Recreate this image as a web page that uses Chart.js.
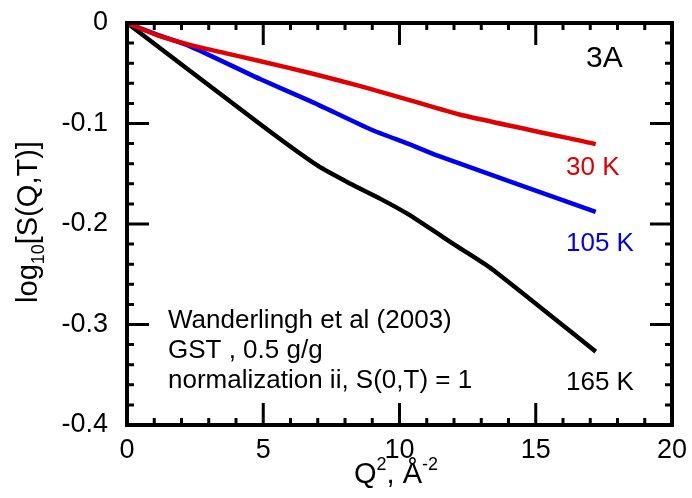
<!DOCTYPE html>
<html>
<head>
<meta charset="utf-8">
<script src="https://cdn.jsdelivr.net/npm/chart.js@4.4.1/dist/chart.umd.min.js"></script>
<style>
	html, body { margin: 0; padding: 0; background: #fff; }
	#wrap { width: 692px; height: 498px; }
</style>
</head>
<body>
<div id="wrap"><canvas id="sqtChart" width="692" height="498"></canvas></div>
<script>
// values: Q^2 (A^-2) and log10 S(Q,T)
var q2_30K = [0, 1.1, 2.35, 3.6, 4.9, 6.75, 8.6, 10.4, 12.2, 17.2];
var logS_30K = [0, -0.012, -0.022, -0.030, -0.038, -0.050, -0.063, -0.077, -0.091, -0.1205];
var q2_105K = [0, 1.1, 2.3, 4.9, 6.75, 8.95, 10.4, 11.4, 17.2];
var logS_105K = [0, -0.0115, -0.023, -0.056, -0.078, -0.106, -0.121, -0.132, -0.188];
var q2_165K = [0, 5.0, 7.0, 8.2, 9.3, 10.3, 12.1, 13.4, 17.2];
var logS_165K = [0, -0.103, -0.142, -0.160, -0.175, -0.19, -0.222, -0.245, -0.327];

var xTicks = [0, 5, 10, 15, 20];
var yTicks = [0, -0.1, -0.2, -0.3, -0.4];
var seriesLabels = ['30 K', '105 K', '165 K'];
var noteLines = ['Wanderlingh et al (2003)', 'GST , 0.5 g/g', 'normalization ii, S(0,T) = 1'];

var RED = '#e00000';
var BLUE = '#0000f0';
var FONT = '"Liberation Sans", Arial, Helvetica, sans-serif';

var _points = function(xs, ys) {
	var pts = [];
	for (var i = 0; i < xs.length; i++) {
		pts.push({x: xs[i], y: ys[i]});
	}
	return pts;
};

// draws a string made of pieces [text, font, dy] centred on cx
var _drawPieces = function(ctx, parts, cx, baseY) {
	var total = 0;
	for (var i = 0; i < parts.length; i++) {
		ctx.font = parts[i][1];
		total += ctx.measureText(parts[i][0]).width;
	}
	var tx = cx - total / 2;
	for (var j = 0; j < parts.length; j++) {
		ctx.font = parts[j][1];
		ctx.fillText(parts[j][0], tx, baseY + parts[j][2]);
		tx += ctx.measureText(parts[j][0]).width;
	}
};

// frame, inward ticks on all four sides, titles and text labels
var framePlugin = {
	id: 'frame',
	afterDraw: function(chart) {
		var ctx = chart.ctx;
		var a = chart.chartArea;
		var xs = chart.scales.x;
		var ys = chart.scales.y;
		ctx.save();
		ctx.strokeStyle = '#000';
		ctx.lineWidth = 4;
		ctx.strokeRect(a.left, a.top, a.right - a.left, a.bottom - a.top);

		ctx.lineWidth = 3;
		ctx.beginPath();
		for (var v = 0; v <= 20; v++) {
			var px = xs.getPixelForValue(v);
			var len = (v % 5 === 0) ? 22 : 7;
			ctx.moveTo(px, a.bottom); ctx.lineTo(px, a.bottom - len);
			ctx.moveTo(px, a.top); ctx.lineTo(px, a.top + len);
		}
		for (var k = 0; k <= 20; k++) {
			var py = ys.getPixelForValue(-k * 0.02);
			var ylen = (k % 5 === 0) ? 22 : 7;
			ctx.moveTo(a.left, py); ctx.lineTo(a.left + ylen, py);
			ctx.moveTo(a.right, py); ctx.lineTo(a.right - ylen, py);
		}
		ctx.stroke();

		ctx.fillStyle = '#000';
		ctx.textBaseline = 'alphabetic';
		ctx.textAlign = 'left';
		var big = '29px ' + FONT;
		var small = '18px ' + FONT;

		// x title: Q^2, A^-2
		_drawPieces(ctx, [['Q', big, 0], ['2', small, -13], [', \u00c5', big, 0], ['-2', small, -13]], 396, 483);

		// y title: log10[S(Q,T)], rotated
		ctx.save();
		ctx.translate(37, 222);
		ctx.rotate(-Math.PI / 2);
		_drawPieces(ctx, [['log', big, 0], ['10', small, 7], ['[S(Q,T)]', big, 0]], 0, 0);
		ctx.restore();

		// panel tag and series labels
		ctx.font = '30px ' + FONT;
		ctx.fillText('3A', 586, 67);
		ctx.font = '26px ' + FONT;
		ctx.fillStyle = RED;
		ctx.fillText(seriesLabels[0], 566, 175);
		ctx.fillStyle = BLUE;
		ctx.fillText(seriesLabels[1], 566, 251);
		ctx.fillStyle = '#000';
		ctx.fillText(seriesLabels[2], 566, 390);

		// note block
		ctx.font = '26px ' + FONT;
		for (var r = 0; r < noteLines.length; r++) {
			ctx.fillText(noteLines[r], 168, 328 + r * 30);
		}
		ctx.restore();
	}
};

window.addEventListener('load', function() {
	var ctx = document.getElementById('sqtChart');
	new Chart(ctx, {
		type: 'scatter',
		data: {
			datasets: [
				{ label: seriesLabels[0], data: _points(q2_30K, logS_30K), borderColor: RED },
				{ label: seriesLabels[1], data: _points(q2_105K, logS_105K), borderColor: BLUE },
				{ label: seriesLabels[2], data: _points(q2_165K, logS_165K), borderColor: '#000' }
			]
		},
		options: {
			responsive: false,
			animation: false,
			devicePixelRatio: 1,
			layout: { padding: { left: 0, top: 23, right: 20, bottom: 0 } },
			elements: {
				line: { borderWidth: 4.5, tension: 0.2, fill: false, borderCapStyle: 'butt' },
				point: { radius: 0, hoverRadius: 0 }
			},
			datasets: { scatter: { showLine: true } },
			plugins: { legend: { display: false }, tooltip: { enabled: false } },
			scales: {
				x: {
					type: 'linear', min: 0, max: 20,
					afterBuildTicks: function(s) { s.ticks = xTicks.map(function(v) { return {value: v}; }); },
					afterFit: function(s) { s.height = 73; s.paddingLeft = 0; s.paddingRight = 0; },
					ticks: { color: '#000', font: { family: FONT, size: 27 }, padding: 9, maxRotation: 0 },
					grid: { display: false, drawTicks: false },
					border: { display: false }
				},
				y: {
					type: 'linear', min: -0.4, max: 0,
					afterBuildTicks: function(s) { s.ticks = yTicks.map(function(v) { return {value: v}; }); },
					afterFit: function(s) { s.width = 127; s.paddingTop = 0; s.paddingBottom = 0; },
					ticks: {
						color: '#000', font: { family: FONT, size: 27 }, padding: 19,
						callback: function(v) { return v === 0 ? '0' : v.toFixed(1); }
					},
					grid: { display: false, drawTicks: false },
					border: { display: false }
				}
			}
		},
		plugins: [framePlugin]
	});
});
</script>
</body>
</html>
